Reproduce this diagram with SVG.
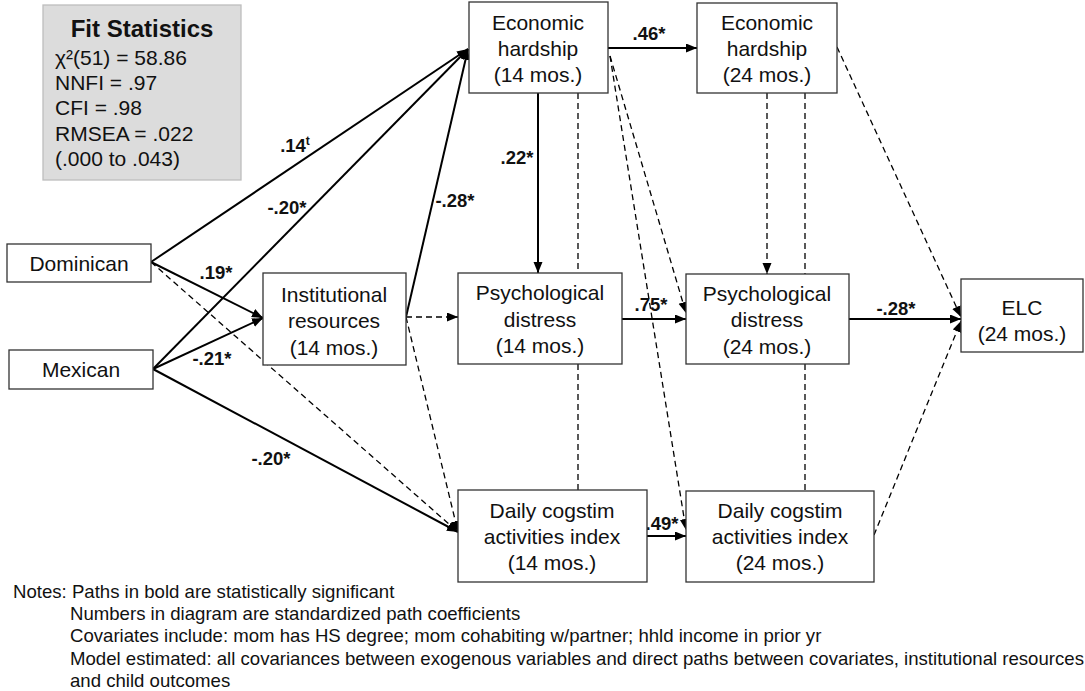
<svg xmlns="http://www.w3.org/2000/svg" width="1085" height="691" viewBox="0 0 1085 691">
<style>
  .box { fill: #ffffff; stroke: #333333; stroke-width: 1.3; }
  .fit { fill: #dcdcdc; stroke: #bdbdbd; stroke-width: 1.3; }
  .t { font-family: "Liberation Sans", Arial, sans-serif; font-size: 21px; fill: #111; text-anchor: middle; }
  .fs { font-family: "Liberation Sans", Arial, sans-serif; font-size: 21px; fill: #111; }
  .fsh { font-family: "Liberation Sans", Arial, sans-serif; font-size: 24px; font-weight: bold; fill: #111; text-anchor: middle; }
  .lbl { font-family: "Liberation Sans", Arial, sans-serif; font-size: 18.5px; font-weight: bold; fill: #111; text-anchor: middle; }
  .note { font-family: "Liberation Sans", Arial, sans-serif; font-size: 18.6px; fill: #111; }
  .solid { stroke: #000; stroke-width: 2; fill: none; marker-end: url(#arr); }
  .dash { stroke: #000; stroke-width: 1.3; fill: none; stroke-dasharray: 6 4; marker-end: url(#arr); }
  .cov { stroke: #000; stroke-width: 1.3; fill: none; stroke-dasharray: 6 4; }
</style>
<defs>
  <marker id="arr" markerUnits="userSpaceOnUse" markerWidth="12" markerHeight="10" refX="11" refY="4.5" orient="auto">
    <path d="M0,0 L11,4.5 L0,9 z" fill="#000"/>
  </marker>
</defs>

<g id="connectors">
  <line class="solid" x1="151" y1="262" x2="468" y2="49"/>
  <line class="solid" x1="153" y1="369" x2="468" y2="49"/>
  <line class="solid" x1="406" y1="317" x2="468" y2="49"/>
  <line class="solid" x1="151" y1="262" x2="263" y2="318"/>
  <line class="solid" x1="153" y1="369" x2="263" y2="318"/>
  <line class="solid" x1="153" y1="369" x2="458" y2="532"/>
  <line class="solid" x1="538" y1="93" x2="538" y2="273"/>
  <line class="solid" x1="608" y1="48" x2="697" y2="48"/>
  <line class="solid" x1="622" y1="319" x2="686" y2="319"/>
  <line class="solid" x1="647" y1="536" x2="686" y2="536"/>
  <line class="solid" x1="849" y1="319" x2="961" y2="319"/>

  <line class="dash" x1="151" y1="262" x2="458" y2="532"/>
  <line class="dash" x1="406" y1="317" x2="458" y2="317"/>
  <line class="dash" x1="406" y1="317" x2="458" y2="532"/>
  <line class="dash" x1="610" y1="56" x2="686" y2="313"/>
  <line class="dash" x1="610" y1="56" x2="686" y2="530"/>
  <line class="dash" x1="767" y1="93" x2="767" y2="274"/>
  <line class="dash" x1="837" y1="47" x2="961" y2="317"/>
  <line class="dash" x1="874" y1="535" x2="961" y2="321"/>

  <line class="cov" x1="578" y1="93" x2="578" y2="273"/>
  <line class="cov" x1="578" y1="364" x2="578" y2="490"/>
  <line class="cov" x1="805" y1="93" x2="805" y2="274"/>
  <line class="cov" x1="805" y1="364" x2="805" y2="491"/>

  <text class="lbl" x="649" y="40">.46*</text>
  <text class="lbl" x="517" y="164">.22*</text>
  <text class="lbl" x="455" y="207">-.28*</text>
  <text class="lbl" x="295" y="152">.14<tspan font-size="12" dy="-7">t</tspan></text>
  <text class="lbl" x="287" y="214">-.20*</text>
  <text class="lbl" x="216" y="279">.19*</text>
  <text class="lbl" x="212" y="365">-.21*</text>
  <text class="lbl" x="271" y="465">-.20*</text>
  <text class="lbl" x="651" y="311">.75*</text>
  <text class="lbl" x="662" y="530">.49*</text>
  <text class="lbl" x="896" y="315">-.28*</text>
</g>

<g id="fit-statistics">
  <rect class="fit" x="43" y="5" width="198" height="175"/>
  <text class="fsh" x="142" y="37">Fit Statistics</text>
  <text class="fs" x="55" y="65">χ²(51) = 58.86</text>
  <text class="fs" x="55" y="90">NNFI = .97</text>
  <text class="fs" x="55" y="115">CFI = .98</text>
  <text class="fs" x="55" y="141">RMSEA = .022</text>
  <text class="fs" x="55" y="166">(.000 to .043)</text>
</g>

<g id="dominican">
  <rect class="box" x="7" y="244" width="144" height="38"/>
  <text class="t" x="79" y="271">Dominican</text>
</g>

<g id="mexican">
  <rect class="box" x="9" y="350" width="144" height="39"/>
  <text class="t" x="81" y="377">Mexican</text>
</g>

<g id="institutional-resources">
  <rect class="box" x="263" y="273" width="143" height="92"/>
  <text class="t" x="334" y="302">Institutional</text>
  <text class="t" x="334" y="328">resources</text>
  <text class="t" x="334" y="355">(14 mos.)</text>
</g>

<g id="economic-hardship-14">
  <rect class="box" x="469" y="2" width="139" height="91"/>
  <text class="t" x="538" y="30">Economic</text>
  <text class="t" x="538" y="56">hardship</text>
  <text class="t" x="538" y="82">(14 mos.)</text>
</g>

<g id="economic-hardship-24">
  <rect class="box" x="697" y="3" width="140" height="90"/>
  <text class="t" x="767" y="30">Economic</text>
  <text class="t" x="767" y="56">hardship</text>
  <text class="t" x="767" y="82">(24 mos.)</text>
</g>

<g id="psychological-distress-14">
  <rect class="box" x="458" y="273" width="164" height="91"/>
  <text class="t" x="540" y="300">Psychological</text>
  <text class="t" x="540" y="327">distress</text>
  <text class="t" x="540" y="353">(14 mos.)</text>
</g>

<g id="psychological-distress-24">
  <rect class="box" x="686" y="274" width="163" height="90"/>
  <text class="t" x="767" y="301">Psychological</text>
  <text class="t" x="767" y="327">distress</text>
  <text class="t" x="767" y="354">(24 mos.)</text>
</g>

<g id="elc-24">
  <rect class="box" x="961" y="279" width="122" height="73"/>
  <text class="t" x="1022" y="315">ELC</text>
  <text class="t" x="1022" y="341">(24 mos.)</text>
</g>

<g id="daily-cogstim-14">
  <rect class="box" x="458" y="490" width="189" height="92"/>
  <text class="t" x="552" y="518">Daily cogstim</text>
  <text class="t" x="552" y="544">activities index</text>
  <text class="t" x="552" y="570">(14 mos.)</text>
</g>

<g id="daily-cogstim-24">
  <rect class="box" x="686" y="491" width="188" height="91"/>
  <text class="t" x="780" y="518">Daily cogstim</text>
  <text class="t" x="780" y="544">activities index</text>
  <text class="t" x="780" y="570">(24 mos.)</text>
</g>

<g id="notes">
  <text class="note" x="13" y="598">Notes: Paths in bold are statistically significant</text>
  <text class="note" x="70" y="620">Numbers in diagram are standardized path coefficients</text>
  <text class="note" x="70" y="642">Covariates include: mom has HS degree; mom cohabiting w/partner; hhld income in prior yr</text>
  <text class="note" x="70" y="665">Model estimated: all covariances between exogenous variables and direct paths between covariates, institutional resources</text>
  <text class="note" x="70" y="687">and child outcomes</text>
</g>
</svg>
